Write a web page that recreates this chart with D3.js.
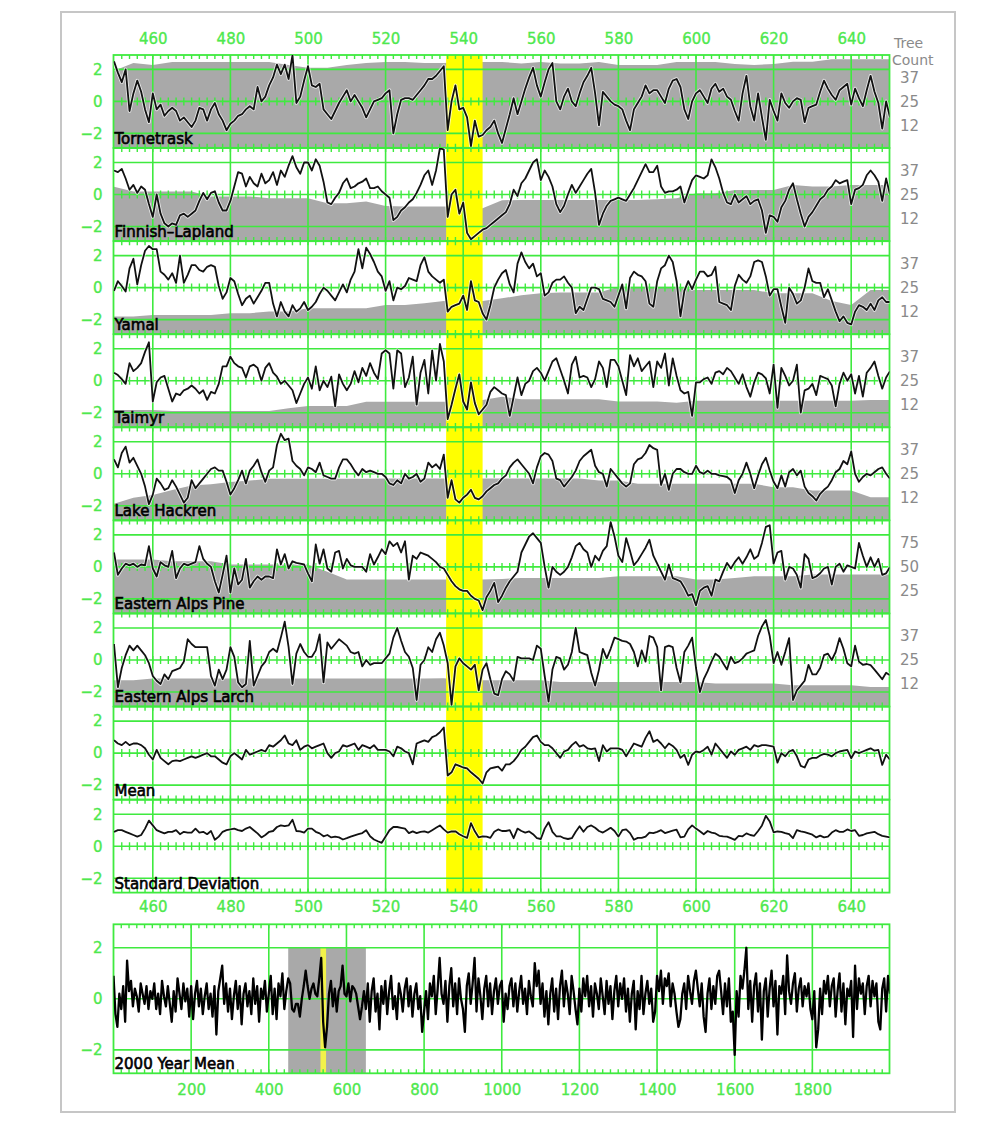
<!DOCTYPE html>
<html>
<head>
<meta charset="utf-8">
<script src="https://cdn.jsdelivr.net/npm/d3@7"></script>
<style>
  body { margin: 0; background: #fff; }
  svg { display: block; }
  text { font-family: "DejaVu Sans", sans-serif; }
</style>
</head>
<body>
<div id="chart"></div>
<script>
// ---- data ------------------------------------------------------------
const years = d3.range(450, 651);          // annual series 450..650
const countYears = d3.range(450, 651, 5);  // tree count samples
const longYears = d3.range(0, 2001, 5);    // 2000 year mean samples

const bandYears = [535.6, 545];
const gridYears = [460, 480, 500, 520, 540, 560, 580, 600, 620, 640];
const longGridYears = [200, 400, 600, 800, 1000, 1200, 1400, 1600, 1800];
const valueTicks = [-2, 0, 2];

const tornetrask = [
  2.5, 1.8, 1.2, 2.0, -0.6, 0.5, 1.3, 0.6, -0.5, -1.3,
  0.5, -0.5, -0.2, -0.9, -0.6, -0.4, -0.6, -1.2, -1.0, -1.3,
  -1.6, -1.2, -0.4, -0.5, -1.2, -0.5, -0.1, -0.8, -1.2, -1.8,
  -1.4, -1.2, -0.9, -0.8, -0.5, -0.3, -0.5, 0.9, 0.0, 0.3,
  1.0, 1.5, 2.3, 1.7, 2.3, 1.4, 2.9, -0.1, 0.3, 1.3,
  2.2, 1.0, 0.9, 1.1, -0.5, -0.8, -1.1, -0.6, -0.1, 0.3,
  0.7, 0.0, 0.4, 0.0, -0.4, -1.0, -0.5, 0.0, 0.1, 0.2,
  0.5, 0.7, -2.0, -0.8, 0.1, 0.2, 0.2, 0.1, 0.4, 0.7,
  1.0, 1.4, 1.4, 1.6, 1.9, 2.2, -1.8, 0.0, 1.0, -0.5,
  -0.4, -1.0, -2.8, -1.2, -2.2, -2.1, -1.8, -1.6, -1.2, -2.0,
  -2.6, -1.7, -0.8, 0.2, -0.8, 0.0, 0.8, 1.5, 2.1, 1.0,
  0.3, 1.2, 2.0, 2.4, 0.0, -0.5, 0.3, 0.8, 0.0, -0.3,
  0.5, 1.2, 1.6, 2.1, 0.5, -1.5, 0.6, 0.3, 0.0, -0.2,
  -0.3, -0.5, -1.2, -1.8, -0.5, -0.1, 0.3, 1.0, 0.5, 0.7,
  0.7, 0.3, -0.1, 0.8, 1.3, 1.4, 0.9, -0.5, -1.1, 0.0,
  0.5, 0.7, 0.3, -0.1, 0.8, 1.1, 0.6, 0.8, 0.3, 0.1,
  -0.6, -1.2, 0.5, 1.6, -0.3, -1.2, 0.5, -1.0, -2.4, 0.1,
  -0.6, -1.2, 0.5, -0.1, -0.4, 0.0, 0.2, 0.1, -1.3, -0.4,
  -0.3, -0.2, 0.6, 1.3, 0.8, 0.4, 0.1, 0.7, 0.9, 1.1,
  -0.2, 0.8, 0.2, -0.3, 0.7, 1.6, 0.6, -0.1, -1.7, 0.0,
  -1.0
];
const tornetraskCount = [
  41, 45, 44, 45.5, 45.5, 45.5, 45.5, 45.5, 45.5, 44,
  42.5, 42.5, 44, 45, 45.5, 45.5, 45, 45, 45.5, 45.5,
  45.5, 44.8, 45.5, 44.8, 44.8, 45.5, 44, 44, 44, 45.5,
  45.5, 45.5, 44.5, 44, 44.5, 45.7, 45.7, 47, 47, 47,
  47
];

const finnish = [
  1.5, 1.4, 1.6, 1.0, 0.3, 0.6, 0.1, 0.5, 0.3, -0.6,
  -1.4, 0.0, -1.2, -1.8, -2.0, -1.8, -1.9, -1.3, -1.2, -1.4,
  -1.2, -1.0, -0.4, 0.1, -0.3, 0.1, 0.2, -0.5, -1.0, -1.0,
  -0.4, 0.5, 1.4, 1.3, 0.5, 1.1, 0.7, 0.5, 1.3, 0.7,
  0.9, 1.4, 0.6, 1.5, 1.1, 1.8, 2.4, 1.7, 1.3, 2.0,
  2.0, 1.5, 2.2, 1.8, 0.8, -0.5, -0.6, -0.2, 0.1, 0.7,
  1.0, 0.4, 0.5, 0.7, 0.8, 1.0, 0.4, 0.4, 0.5, 0.2,
  0.0, -0.2, -1.6, -1.4, -1.0, -0.8, -0.5, -0.3, 0.1, 0.6,
  1.2, 1.5, 0.6, 1.5, 2.9, 2.8, -1.4, 0.0, 0.3, -1.2,
  -0.5, -2.4, -2.8, -2.6, -2.4, -2.2, -2.1, -1.9, -1.7, -1.5,
  -1.3, -1.1, -0.6, 0.3, -0.1, 0.7, 1.0, 1.5, 2.0, 2.2,
  0.9, 1.5, 1.1, 0.5, -0.6, -1.1, -0.7, 0.0, 0.6, 0.1,
  0.5, 0.9, 1.3, 1.6, 0.1, -1.9, -1.2, -0.7, -0.4, -0.3,
  -0.2, -0.3, -0.4, 0.0, 0.4, 0.9, 1.4, 1.9, 1.4, 1.4,
  1.8, 0.5, 0.1, 0.2, 0.2, 0.3, 0.5, -0.5, 0.2, 0.9,
  1.2, 1.1, 1.0, 1.2, 2.2, 1.7, 1.0, 0.1, -0.5, -0.6,
  0.0, -0.5, -0.3, -0.1, -0.6, -0.4, -0.3, -1.0, -2.4, -1.3,
  -1.4, -1.7, -0.8, -0.4, 0.3, 0.7, -0.3, -1.2, -2.0, -1.4,
  -1.1, -0.7, -0.3, -0.1, 0.3, 0.5, 0.9, 0.7, 0.8, 0.9,
  -0.6, 0.3, 0.4, 0.6, 1.2, 1.5, 1.2, 0.8, -0.4, 1.0,
  0.0
];
const finnishCount = [
  29, 26.6, 26.6, 26.6, 26.6, 24, 24, 24, 23.1, 23.1,
  23.1, 20.5, 20.5, 21.3, 19, 18.75, 18.75, 18.75, 18.5, 17.9,
  22, 22.2, 22.2, 22.2, 22.2, 22.2, 22.2, 22.2, 22.5, 23,
  25.7, 25.7, 27.4, 27.4, 27.4, 30, 29.2, 29.2, 30, 30,
  30
];

const yamal = [
  -0.2, 0.4, 0.1, -0.25, 1.2, 1.8, 0.2, 1.4, 2.3, 2.6,
  2.4, 2.4, 1.0, 0.8, 0.5, 0.9, 0.3, 2.0, 0.3, 0.8,
  1.4, 1.4, 1.1, 1.0, 1.3, 1.4, 1.3, 0.1, -0.7, -0.3,
  0.6, 0.4, -0.4, -1.1, -0.7, -0.5, -1.0, -0.6, -0.2, 0.3,
  0.3, -1.0, -1.8, -0.9, -1.5, -1.8, -1.1, -1.5, -1.3, -0.9,
  -1.4, -1.2, -0.9, -0.4, 0.0, -0.2, -0.5, -0.8, -0.3, 0.2,
  -0.3, 0.5, 1.0, 2.4, 1.2, 2.5, 2.1, 1.6, 1.0, 0.7,
  -0.2, 0.4, -0.8, 0.0, -0.1, 0.1, 0.6, 0.5, 0.4, 1.4,
  1.9, 1.0, 0.7, 0.5, 0.3, 0.5, -1.5, -1.2, -1.1, -1.0,
  -0.5, -1.4, 0.4, -0.8, -0.9, -1.6, -2.0, -1.1, 0.0, 0.5,
  0.9, 1.1, 0.2, -0.3, 1.5, 2.2, 1.6, 1.2, 1.5, 0.7,
  0.9, -0.5, -0.3, 0.3, 0.5, 0.5, 0.7, 0.3, 0.0, -1.6,
  -1.2, -1.4, -0.7, 0.0, 0.0, -0.1, -0.7, -0.8, -0.9, -1.2,
  -0.5, 0.2, -1.3, 0.6, 1.0, 0.8, 0.7, 0.4, -1.0, -1.2,
  0.4, 1.2, 1.4, 2.0, 1.6, 0.4, -1.8, -0.2, 0.4, -0.1,
  0.5, 1.0, 1.0, 0.7, 0.8, 1.3, -0.9, -1.0, -1.1, -1.4,
  0.1, 0.8, 0.5, 0.3, 0.7, 1.6, 1.7, 1.6, 0.7, -0.5,
  -0.1, -0.1, -1.2, -2.2, 0.0, -0.4, -1.0, -0.8, 0.0, 1.2,
  0.4, 0.3, 0.3, -0.6, -0.1, -0.8, -1.5, -2.1, -1.8, -2.2,
  -2.3, -1.5, -1.1, -1.2, -1.4, -1.0, -1.4, -0.8, -0.6, -0.9,
  -0.9
];
const yamalCount = [
  9.9, 9.9, 10.75, 10.75, 10.75, 10.75, 11.7, 11.7, 12.5, 12.5,
  14.2, 14.2, 14.2, 14.2, 16, 16, 16.8, 18, 18, 18,
  19.4, 21, 22, 22.5, 22.5, 22.5, 25.5, 25.5, 25.5, 25.5,
  23.8, 23.8, 23.8, 23.8, 22, 22, 22, 18, 16, 23.8,
  23.8
];

const taimyr = [
  0.5, 0.35, 0.1, -0.2, 1.1, 0.6, 0.8, 1.1, 1.8, 2.4,
  -1.3, -0.1, 0.2, 0.3, -0.5, -1.3, -0.8, -0.9, -0.6, -0.5,
  -0.3, -0.5, -0.8, -0.6, -1.2, -0.7, -0.8, -0.2, 0.9, 0.9,
  1.5, 1.1, 0.9, 0.8, 0.2, 0.9, 1.0, 0.8, 0.0, 0.8,
  1.1, 0.5, 0.25, -0.2, 0.0, -0.3, -0.6, -1.4, -0.8, -0.2,
  0.2, -0.5, 0.9, -0.6, 0.0, -0.4, 0.25, -1.6, 0.4, -0.2,
  -0.6, -0.2, 0.6, -0.1, 0.8, 0.3, 1.1, 0.5, 0.1, 1.7,
  1.9, 1.7, -0.5, 1.9, 1.7, -0.4, 0.2, 1.5, -1.5, 0.5,
  1.3, -0.8, 1.9, 0.0, 2.3, 1.2, -2.4, -1.5, -0.5, 0.4,
  -1.3, -1.8, -0.1, -1.4, -2.1, -1.8, -1.5, -0.7, -0.4, -0.6,
  -0.8, -0.9, -2.2, -1.0, 0.2, -0.9, -0.2, 0.0, 0.6, 0.8,
  0.5, 0.0, 0.6, 1.2, 1.4, 0.7, 0.0, -0.8, 1.0, 1.5,
  0.2, 0.3, 0.2, -0.4, 0.1, 1.2, 0.8, -0.4, 1.3, 1.3,
  0.9, 0.0, -0.9, 1.6, 0.9, 1.4, 0.6, 0.9, 1.2, -0.4,
  1.2, 0.8, 1.7, -0.3, 1.4, 0.3, -0.6, -0.8, -0.7, -2.2,
  -0.1, -0.1, 0.1, 0.2, -0.2, 0.5, 0.6, 0.4, 0.8, 0.6,
  0.2, -0.2, 0.4, -0.4, -1.0, -0.1, 0.5, 0.4, 0.15, -0.8,
  1.0, -1.7, 0.8, 0.3, -0.3, 0.0, 1.0, -2.0, -0.6, -0.5,
  -0.2, -0.9, 0.3, 0.2, 0.1, -0.3, -1.6, -0.2, 0.5, 0.0,
  0.4, -0.8, 0.3, -1.0, 0.5, 0.8, 1.2, 0.3, -0.5, 0.2,
  0.6
];
const taimyrCount = [
  9.7, 9.7, 9.7, 9.2, 9.2, 9.2, 9.2, 9.2, 9.2, 10.6,
  11.8, 11.8, 11.8, 14, 14, 14, 14, 14, 14, 15,
  16.7, 15.3, 15.3, 15.3, 15.3, 15.3, 14.2, 14.2, 14.2, 13.5,
  14.6, 14.6, 14.6, 14.6, 14.6, 14.6, 14.6, 14.6, 14.6, 15,
  15
];

const hackren = [
  0.9, 0.4, 1.3, 1.7, 0.7, 1.0, 0.5, 0.0, -0.8, -1.9,
  -1.3, -0.3, -0.6, -1.0, -0.9, -0.4, -0.8, -1.3, -1.8, -1.5,
  -0.4, -0.9, -0.6, -0.3, 0.0, 0.3, 0.4, 0.2, 0.2, -0.5,
  -1.3, -0.9, -0.4, 0.2, -0.6, 0.2, 0.5, 0.9, 0.1, -0.5,
  0.2, 0.4, 1.8, 2.5, 2.1, 2.2, 0.8, 0.5, 0.3, -0.1,
  0.4, 0.3, 0.1, 0.7, -0.1, -0.2, -0.3, -0.3, 0.4, 0.9,
  0.9, 0.6, 0.2, -0.1, 0.3, 0.1, 0.2, 0.1, 0.0, 0.0,
  -0.2, -0.6, -0.7, -0.4, -0.6, 0.0, -0.3, -0.2, 0.0, -0.5,
  -0.3, 0.7, 0.4, 0.6, 0.3, 1.2, -1.5, -0.4, -1.6, -1.8,
  -1.5, -1.3, -1.0, -1.5, -1.6, -1.4, -1.1, -0.9, -0.7, -0.6,
  -0.3, -0.1, 0.4, 0.7, 0.9, 0.6, 0.3, 0.0, -0.6, 0.4,
  1.1, 1.3, 1.2, 0.8, -0.3, -0.4, -0.8, -0.5, -0.2, 0.2,
  0.8, 1.1, 1.3, 1.5, 0.5, 0.1, 0.0, -0.8, 0.3, 0.0,
  -0.3, -0.6, -0.8, -0.6, 0.6, 0.9, 1.0, 1.3, 1.8, 1.6,
  1.5, -0.7, 0.0, -1.0, 0.0, 0.3, 0.3, 0.1, 0.0, 0.0,
  0.5, 0.1, 0.0, 0.2, 0.0, 0.0, -0.1, -0.15, -0.2, -0.4,
  -1.2, -0.4, 0.0, 0.7, 0.0, -0.9, -0.1, 0.6, 1.0, 0.2,
  -0.5, -0.9, -0.1, -0.8, 0.1, 0.3, -0.1, 0.2, -0.8, -1.2,
  -1.4, -1.67, -1.25, -1.0, -0.8, -0.4, 0.1, 0.3, 0.8, 0.6,
  1.4, 0.0, -0.5, -0.2, 0.0, -0.1, 0.1, 0.3, 0.4, 0.0,
  -0.3
];
const hackrenCount = [
  9.4, 12.5, 14, 16.5, 18.9, 19.5, 20.7, 21.5, 22.4, 22.4,
  22.4, 22.4, 22.4, 22.4, 22.6, 22.6, 22.6, 22.6, 22.5, 22.5,
  22.5, 22.5, 22.5, 22.5, 22.5, 21.5, 21.5, 19.8, 19.8, 19.8,
  19.8, 19.8, 19.8, 19.8, 18, 18, 16.3, 16.3, 16.3, 12.8,
  12.8
];

const alpsPine = [
  0.9, -0.5, -0.1, 0.2, 0.1, 0.2, 0.0, 0.15, 0.1, 1.3,
  -0.1, -0.6, 0.3, 0.1, 0.0, 1.0, -0.7, -0.1, 0.2, 0.1,
  0.2, 0.3, 1.3, 0.5, 0.2, 0.0, -0.9, -1.6, -0.5, 0.7,
  -1.6, -0.1, -1.1, -0.8, 0.5, -1.3, -0.9, -0.6, -0.8, -0.6,
  -0.6, -0.7, 1.1, 0.15, 0.8, -0.1, 0.35, 0.25, 0.2, 0.15,
  -0.4, -0.9, 1.4, 0.2, 1.1, -0.1, -0.3, 0.9, 1.0, -0.1,
  0.5, 0.1, 0.0, 0.0, 0.0, -0.3, 0.8, 0.15, 0.6, 1.1,
  0.8, 1.6, 1.3, 1.5, 0.9, 1.6, -0.8, 0.7, 0.5, 0.9,
  0.8, 0.7, 0.5, 0.3, 0.0, -0.1, -0.5, -0.9, -1.2, -1.4,
  -1.5, -1.5, -1.8, -2.0, -2.1, -2.7, -1.9, -1.5, -1.0, -2.2,
  -1.8, -1.3, -0.9, -0.6, -0.3, 0.9, 1.4, 1.9, 2.1, 1.8,
  1.5, 0.0, -1.3, 0.0, -0.3, -0.5, -0.3, 0.0, 0.6, 1.3,
  1.5, 1.1, 0.9, 0.0, 0.7, 0.4, 1.0, 1.3, 2.8, 1.9,
  0.7, 0.3, 1.8, 1.0, 0.1, 0.4, 0.8, 1.2, 1.7, 0.7,
  0.2, -0.3, -0.8, 0.15, -0.7, -0.8, -0.9, -1.3, -1.8, -1.7,
  -2.4, -1.5, -1.3, -1.2, -1.8, -0.8, -0.9, -0.3, 0.25, -0.1,
  0.3, 0.6, 0.2, 0.6, 1.1, 0.5, 0.7, 1.5, 2.5, 2.6,
  0.2, 0.9, 1.0, -0.8, 0.0, -0.1, -0.5, -1.3, 0.8, 0.5,
  -0.7, -0.6, -0.4, -0.1, 0.0, -1.1, 0.0, 0.2, -0.3, 0.1,
  0.0, -0.1, 1.5, 0.7, 0.0, 0.6, 0.0, 0.5, -0.5, -0.4,
  0.0
];
const alpsPineCount = [
  57.7, 57.7, 57.7, 55.9, 55.9, 55.9, 52.4, 52.4, 52.4, 52.4,
  52.4, 45, 37, 36.8, 36.8, 36.8, 36.8, 36.8, 36.8, 36.8,
  37.5, 38.5, 38.5, 38.5, 38.5, 38.5, 40.3, 40.3, 40.3, 40.3,
  36.8, 36.8, 38.5, 40.3, 40.3, 40.3, 42, 42, 42, 42,
  42
];

const alpsLarch = [
  1.0, -1.7, -0.5, 0.3, 0.9, 0.6, 0.9, 0.6, 0.3, -0.2,
  -1.0, -1.3, -1.5, -0.9, -1.2, -0.7, -0.6, -0.5, -0.1, 1.3,
  1.0, 0.8, 0.8, 0.8, 0.8, -1.0, -1.6, -0.6, -1.2, -0.6,
  0.8, 0.2, -1.4, -1.7, -1.5, 1.2, -1.6, -1.0, -0.4, -0.1,
  0.5, 0.7, 0.5, 1.4, 2.4, 0.8, -1.5, 0.4, 1.0, 0.5,
  0.2, 0.2, 0.6, 1.6, -1.4, 1.1, 0.7, 1.0, 1.3, 1.1,
  0.9, 0.5, 0.4, 0.5, -0.4, 0.0, -0.3, -0.2, -0.2, -0.2,
  0.1, 0.4, 1.4, 2.0, 1.2, 0.5, 0.2, -0.5, -2.5, -0.3,
  0.0, 0.8, 0.5, 1.3, 1.7, 0.9, -0.2, -2.8, -0.4, 0.1,
  -0.2, -0.4, -0.6, -0.3, -1.9, -0.6, -0.2, -1.2, -2.1, -2.2,
  -1.2, -0.7, -0.9, -1.3, 0.2, 0.1, 0.1, 0.1, 0.0, 0.9,
  0.7, -1.0, -2.6, -0.6, 0.2, 0.1, -0.6, -0.3, 0.5, 2.0,
  0.5, 0.4, 0.3, -0.8, -1.6, -0.6, 0.7, 0.1, 0.7, 1.4,
  1.3, 1.2, 1.15, 1.0, 0.5, -0.4, 0.6, -0.1, 1.5, 1.4,
  0.8, -1.9, 0.8, 0.9, 0.8, -0.5, -1.4, 0.5, 0.9, 1.4,
  -0.5, -2.0, -1.2, -0.7, -0.1, 0.4, 0.2, -0.2, -0.6, 0.2,
  -0.2, -0.1, 0.1, 0.4, 0.5, 0.6, 1.5, 2.1, 2.5, 1.5,
  -0.2, 0.5, -0.3, 0.5, 1.37, -2.5, -1.9, -1.6, -1.3, -0.3,
  -0.9, -0.9, -0.5, 0.3, 0.4, 0.0, 0.5, 1.37, 0.7, -0.2,
  -0.4, 0.9, -0.1, -0.3, -0.25, -0.32, -0.6, -0.9, -1.2, -0.8,
  -0.95
];
const alpsLarchCount = [
  14.5, 14.5, 15.3, 15.3, 15.3, 15.3, 15.3, 15.3, 15.3, 15.3,
  15.3, 15.3, 15.3, 15.3, 15.3, 15.3, 15.3, 15.5, 14.5, 14.5,
  14.5, 14.5, 14.5, 13.6, 13.6, 13.6, 13.6, 13.6, 13.6, 13.6,
  13.6, 12.75, 12.75, 12.75, 12.75, 11.8, 11.8, 11.8, 11.8, 11,
  11
];

const meanSeries = [
  0.8, 0.6, 0.5, 0.7, 0.5, 0.6, 0.6, 0.5, 0.3, -0.1,
  -0.4, 0.2, -0.3, -0.5, -0.7, -0.5, -0.45, -0.5, -0.4, -0.3,
  -0.2, -0.3, -0.2, -0.1, 0.0, -0.2, -0.2, -0.4, -0.6, -0.7,
  -0.2, 0.0, -0.2, -0.4, 0.2, -0.1, 0.0, 0.1, 0.2, 0.1,
  0.5, 0.4, 0.6, 0.8, 1.1, 0.6, 0.5, 0.8, 0.2, 0.4,
  0.5, 0.3, 0.4, 0.5, 0.6, 0.0, -0.3, 0.0, 0.1, 0.5,
  0.4, 0.5, 0.6, 0.2, 0.5, 0.4, 0.3, 0.5, 0.2, 0.2,
  0.2, 0.1, -0.2, 0.4, 0.3, 0.1, 0.0, -0.7, 0.6, 0.7,
  0.8, 0.7, 1.0, 1.1, 1.3, 1.6, -1.4, -1.2, -0.7, -0.8,
  -0.9, -0.95, -1.2, -1.4, -1.6, -1.9, -1.2, -0.95, -0.9, -0.85,
  -1.1, -0.7, -0.7, -0.5, -0.2, 0.2, 0.4, 0.7, 1.0, 1.1,
  0.7, 0.5, 0.5, 0.3, 0.0, -0.3, 0.1, 0.2, 0.5, 0.7,
  0.4, 0.5, 0.3, 0.25, 0.3, -0.5, 0.5, 0.1, 0.3, 0.3,
  0.3, 0.2, -0.2, 0.2, 0.6, 0.5, 0.4, 0.95, 1.37, 0.7,
  0.84, 0.6, 0.3, 0.6, 0.45, 0.2, -0.3, -0.1, -0.74, -0.1,
  0.1, 0.05, 0.2, 0.4, -0.1, 0.6, 0.3, 0.0, -0.3, 0.1,
  -0.1, 0.2, 0.3, 0.4, 0.2, 0.5, 0.4, 0.5, 0.5, 0.45,
  0.4, -0.6, 0.0, -0.2, 0.1, 0.2, -0.2, -0.8, -0.9, -0.4,
  -0.3, -0.3, -0.15, -0.05, -0.1, -0.2, 0.0, 0.1, 0.15, 0.2,
  -0.32, 0.1, 0.0, 0.1, 0.2, 0.3, 0.15, 0.2, -0.74, -0.1,
  -0.42
];

const stdSeries = [
  0.9, 1.0, 1.0, 0.9, 0.8, 0.7, 0.6, 0.7, 1.1, 1.6,
  1.3, 1.0, 0.9, 0.8, 0.9, 0.9, 1.0, 0.75, 0.9, 0.85,
  0.85, 1.1, 0.85, 0.9, 0.75, 0.95, 0.4, 0.6, 0.9, 1.0,
  1.05, 1.1, 1.0, 0.95, 1.1, 1.2, 1.0, 0.8, 0.55, 0.7,
  0.9, 0.95, 1.2, 1.3, 1.25, 1.3, 1.65, 0.95, 0.93, 0.85,
  1.1, 1.1, 0.9, 0.8, 0.62, 0.7, 0.55, 0.6, 0.55, 0.42,
  0.5, 0.6, 0.68, 0.75, 0.82, 1.0, 0.62, 0.42, 0.31, 0.21,
  0.6, 1.0, 1.2, 1.2, 1.15, 1.1, 0.82, 0.93, 0.82, 0.9,
  0.93, 0.85, 1.0, 1.15, 1.3, 1.05, 0.85, 0.92, 0.93, 0.75,
  0.62, 0.52, 1.44, 0.93, 0.55, 0.62, 0.6, 0.52, 0.9, 1.05,
  0.95, 0.95, 1.0, 0.5, 1.1, 0.95, 0.85, 0.92, 0.75, 0.5,
  0.45, 1.1, 1.5, 0.9, 0.62, 0.62, 0.5, 0.45, 0.5, 0.9,
  1.25, 0.9, 1.2, 1.3, 1.15, 0.95, 0.85, 1.0, 1.15, 0.95,
  0.6, 1.0, 1.05, 0.82, 0.4, 0.52, 0.52, 0.6, 0.85, 0.82,
  0.9, 1.0, 0.82, 0.9, 0.97, 1.03, 0.55, 0.6, 1.05, 1.3,
  1.1, 0.93, 0.75, 0.95, 0.85, 0.8, 0.65, 0.62, 0.6, 0.5,
  0.4, 0.65, 0.62, 0.8, 0.7, 0.65, 0.95, 1.3, 1.9, 1.55,
  0.87, 0.92, 0.9, 0.82, 0.75, 0.5, 1.0, 0.93, 0.88, 0.8,
  0.72, 0.55, 0.66, 0.55, 0.6, 0.85, 1.0, 0.9, 0.9, 1.05,
  0.95, 1.0, 0.65, 0.7, 0.8, 0.85, 0.9, 0.75, 0.65, 0.6,
  0.55
];

const longMean = [
  0.9, -0.6, -1.1, 0.2, -0.4, 0.5, -0.9, 1.5, 0.3, 0.7,
  -0.3, 0.4, 0.1, -0.5, 0.6, 0.2, -0.2, 0.5, -0.4, 0.3,
  0.0, 0.6, -0.4, 0.2, -0.6, 0.7, 0.1, -0.3, 0.5, -0.2,
  -0.9, 0.3, -0.5, 0.8, 0.2, -0.4, 0.6, -0.1, 0.4, -0.7,
  0.5, -0.8, 0.2, 0.7, -0.3, 0.4, -0.6, 0.1, 0.6, -0.4,
  0.2, -0.7, 0.5, -1.4, 0.3, 0.8, 1.3, -0.2, 0.6, -0.5,
  0.4, -0.8, 0.1, 0.7, -0.4, 0.5, -1.0, 0.2, 0.6, -0.3,
  0.3, -0.6, 0.8, -0.2, 0.5, -0.9, 0.4, 0.0, 0.7, -0.5,
  0.2, 0.9, -0.6, 0.4, -0.8, 0.6, 0.1, 1.0, -0.4, 0.3,
  0.8, 0.6, -0.4, -0.5, -0.2, -0.2, -0.7, 0.0, 0.5, 1.1,
  0.5, 0.0, 0.4, 0.6, 0.2, 0.1, 0.8, 1.6, -0.9, -1.9,
  -1.1, 0.2, 0.7, -0.3, 0.4, -0.5, 0.3, 0.5, 1.3, 0.2,
  0.1, 0.6, -0.1, 0.5, 0.4, 0.2, -0.3, -0.8, -0.3, 0.3,
  -0.4, 0.6, -0.9, 0.3, 0.8, -0.5, 0.2, -1.2, 0.5, -0.2,
  0.7, -0.6, 0.3, 0.9, -0.4, 0.1, -0.8, 0.6, 0.2, -0.5,
  0.4, 0.8, -0.3, 0.5, -0.7, 0.2, 0.6, -0.4, 0.1, -1.3,
  -0.5, 0.3, -0.8, 0.6, 0.1, 0.9, -0.6, 0.4, 1.6, 0.2,
  -0.2, 0.7, -0.9, 0.5, 1.2, -0.3, 0.6, -0.6, 0.8, 0.0,
  -0.4, -1.3, 0.5, 1.0, -0.2, 0.6, 1.6, -0.5, 0.8, 0.1,
  -0.8, 0.4, 0.9, -0.3, 0.6, -0.6, 0.3, 0.8, -0.2, 0.5,
  0.7, -0.9, 0.2, -0.4, 0.5, 0.8, -0.3, 0.6, -0.5, 0.3,
  0.9, -0.2, 0.4, -0.6, 0.7, 0.1, -0.3, 1.4, 0.5, 1.1,
  -0.2, 0.6, -0.7, 0.3, -1.0, 0.2, 0.8, -0.5, 0.4, -0.8,
  0.5, 1.1, -0.3, 0.7, 0.2, -0.6, 0.9, 0.3, -0.4, -1.0,
  0.4, -0.5, 0.8, 0.1, 0.9, -0.3, 0.5, -0.7, 0.6, 0.2,
  -0.4, 0.8, 0.1, -0.6, 0.7, -0.2, 0.5, -0.8, 0.3, 0.9,
  -0.3, 0.6, 0.0, 0.8, -0.5, 0.4, -0.9, 0.2, 0.7, -1.2,
  0.3, -0.4, 0.9, -0.6, 0.2, 0.7, -0.2, 0.4, -0.9, -0.5,
  0.9, 0.3, 1.1, -0.2, 0.8, 0.5, 1.0, -0.3, 0.6, 0.2,
  -0.5, -1.1, -0.8, 0.2, 0.6, -0.4, 0.9, 0.3, -0.2, 0.7,
  1.1, 0.4, -0.3, 0.6, -0.7, -1.3, 0.2, 0.8, -0.4, 0.5,
  -0.2, 0.9, 1.1, 0.3, -0.6, 0.6, -0.3, 0.8, -0.9, -0.5,
  -2.2, 0.3, -0.7, 0.9, 0.4, 1.1, 2.0, -0.4, 0.7, -0.9,
  0.5, 1.0, -0.5, 0.6, -1.6, 0.3, 0.8, -0.7, 0.4, 1.1,
  -0.3, 0.7, -1.4, 0.5, 0.2, 0.9, -0.6, 1.7, 0.3, -0.2,
  0.6, 1.0, -0.5, 0.4, 0.8, -0.3, 0.5, 0.1, 0.6, -0.4,
  -0.8, 0.3, -1.9, -1.2, 0.4, -0.6, 0.7, 0.2, 0.9, -0.3,
  0.5, 0.8, -0.7, 0.3, 1.0, -0.5, 0.6, -1.0, 0.4, 0.1,
  0.7, -1.5, 1.3, -0.4, 0.8, 0.2, 0.6, -0.6, 0.5, 0.9,
  -0.3, 0.7, 0.1, 0.6, -0.9, -1.2, 0.4, 0.8, -0.5, 0.9,
  0.2
];

const panels = [
  { name: "Tornetrask", values: tornetrask, counts: tornetraskCount, countMax: 50, countTicks: [12.5, 25, 37.5] },
  { name: "Finnish\u2013Lapland", values: finnish, counts: finnishCount, countMax: 50, countTicks: [12.5, 25, 37.5] },
  { name: "Yamal", values: yamal, counts: yamalCount, countMax: 50, countTicks: [12.5, 25, 37.5] },
  { name: "Taimyr", values: taimyr, counts: taimyrCount, countMax: 50, countTicks: [12.5, 25, 37.5] },
  { name: "Lake Hackren", values: hackren, counts: hackrenCount, countMax: 50, countTicks: [12.5, 25, 37.5] },
  { name: "Eastern Alps Pine", values: alpsPine, counts: alpsPineCount, countMax: 100, countTicks: [25, 50, 75] },
  { name: "Eastern Alps Larch", values: alpsLarch, counts: alpsLarchCount, countMax: 50, countTicks: [12.5, 25, 37.5] },
  { name: "Mean", values: meanSeries },
  { name: "Standard Deviation", values: stdSeries }
];

// ---- layout ----------------------------------------------------------
const green = "#3fea3f";
const labelGreen = "#4ee84e";
const gray = "#a9a9a9";
const yellow = "#ffff00";
const intFmt = d3.format("d");

const left = 113.5, right = 889.5;
const firstTop = 55, step = 93.1, panelH = 92.8;

const svg = d3.select("#chart").append("svg")
  .attr("width", 1000)
  .attr("height", 1121);

svg.append("rect")
  .attr("x", 61).attr("y", 12)
  .attr("width", 894).attr("height", 1100)
  .attr("fill", "#fff")
  .attr("stroke", "#c6c6c6")
  .attr("stroke-width", 2);

const x = d3.scaleLinear().domain([450, 650]).range([left + 0.5, right + 0.5]);

function styleAxis(g, color, size) {
  g.select(".domain").remove();
  g.selectAll(".tick line").remove();
  g.attr("font-family", null).attr("font-size", null);
  g.selectAll("text")
    .attr("fill", color)
    .attr("stroke", color)
    .attr("stroke-width", 0.35)
    .style("font-size", size + "px");
}

function gridLines(g, xs, yv, top, bottom, x0, x1) {
  g.selectAll(null).data(xs).enter().append("line")
    .attr("x1", d => d).attr("x2", d => d)
    .attr("y1", top).attr("y2", bottom)
    .attr("stroke", green).attr("stroke-width", 1.6);
  g.selectAll(null).data(yv).enter().append("line")
    .attr("x1", x0).attr("x2", x1)
    .attr("y1", d => d).attr("y2", d => d)
    .attr("stroke", green).attr("stroke-width", 1.6);
  g.append("rect")
    .attr("x", x0).attr("y", top)
    .attr("width", x1 - x0).attr("height", bottom - top)
    .attr("fill", "none")
    .attr("stroke", green).attr("stroke-width", 1.8);
}

function seriesLabel(g, text, yPos) {
  g.append("text")
    .attr("x", left + 1).attr("y", yPos)
    .attr("fill", "#000")
    .attr("stroke", "#000")
    .attr("stroke-width", 0.6)
    .style("font-size", "15px")
    .text(text);
}

panels.forEach((p, i) => {
  const top = firstTop + i * step;
  const bottom = top + panelH;
  const y = d3.scaleLinear().domain([-2.9, 2.9]).range([bottom, top]);
  const g = svg.append("g");

  const clipId = "clip" + i;
  svg.append("clipPath").attr("id", clipId)
    .append("rect").attr("x", left).attr("y", top)
    .attr("width", right - left).attr("height", panelH);

  // tree count area
  if (p.counts) {
    const c = d3.scaleLinear().domain([0, p.countMax]).range([y(-3), y(3)]);
    const area = d3.area()
      .x((d, j) => x(countYears[j]))
      .y0(bottom)
      .y1(d => c(d));
    g.append("path").datum(p.counts)
      .attr("d", area)
      .attr("fill", gray)
      .attr("clip-path", `url(#${clipId})`);

    const ra = g.append("g")
      .attr("transform", `translate(${right},0)`)
      .call(d3.axisRight(c).tickValues(p.countTicks)
        .tickFormat(d => Math.floor(d)).tickSize(0).tickPadding(10.5));
    styleAxis(ra, "#8a8a8a", 15);
    ra.selectAll("text").attr("stroke", null);
  }

  // highlighted years
  g.append("rect")
    .attr("x", x(bandYears[0])).attr("y", top)
    .attr("width", x(bandYears[1]) - x(bandYears[0]))
    .attr("height", panelH)
    .attr("fill", yellow);

  gridLines(g, gridYears.map(x), valueTicks.map(y), top, bottom, left, right);

  // minor ticks every 2 years
  const minor = d3.range(452, 650, 2);
  const y0 = y(0);
  g.selectAll(null).data(minor).enter().append("path")
    .attr("d", d => {
      const xx = x(d);
      return `M${xx},${top}v4M${xx},${bottom}v-4M${xx},${y0 - 4}v8`;
    })
    .attr("stroke", green).attr("stroke-width", 1.4);

  const la = g.append("g")
    .attr("transform", `translate(${left},0)`)
    .call(d3.axisLeft(y).tickValues(valueTicks).tickFormat(intFmt).tickSize(0).tickPadding(11));
  styleAxis(la, labelGreen, 15);

  seriesLabel(g, p.name, bottom - 4);

  const line = d3.line().x((d, j) => x(years[j])).y(d => y(d));
  g.append("path").datum(p.values)
    .attr("d", line)
    .attr("fill", "none")
    .attr("stroke", "#fff").attr("stroke-opacity", 0.7)
    .attr("stroke-width", 3.6)
    .attr("stroke-linejoin", "round")
    .attr("clip-path", `url(#${clipId})`);
  g.append("path").datum(p.values)
    .attr("d", line)
    .attr("fill", "none")
    .attr("stroke", "#111")
    .attr("stroke-width", 1.8)
    .attr("stroke-linejoin", "round")
    .attr("clip-path", `url(#${clipId})`);
});

// year labels above and below the stack
const stackBottom = firstTop + (panels.length - 1) * step + panelH;
const ta = svg.append("g").attr("transform", `translate(0,${firstTop})`)
  .call(d3.axisTop(x).tickValues(gridYears).tickFormat(intFmt).tickSize(0).tickPadding(11.5));
styleAxis(ta, labelGreen, 15);
const ba = svg.append("g").attr("transform", `translate(0,${stackBottom})`)
  .call(d3.axisBottom(x).tickValues(gridYears).tickFormat(intFmt).tickSize(0).tickPadding(8.5));
styleAxis(ba, labelGreen, 15);

svg.append("text").attr("x", 894).attr("y", 48)
  .attr("fill", "#8a8a8a").style("font-size", "14px").text("Tree");
svg.append("text").attr("x", 892).attr("y", 65)
  .attr("fill", "#8a8a8a").style("font-size", "14px").text("Count");

// ---- 2000 year mean --------------------------------------------------
const lTop = 924.3, lBottom = 1073.3;
const lx = d3.scaleLinear().domain([0, 2000]).range([left, right + 0.5]);
const ly = d3.scaleLinear().domain([-2.92, 2.92]).range([lBottom, lTop]);
const lg = svg.append("g");

svg.append("clipPath").attr("id", "clipLong")
  .append("rect").attr("x", left).attr("y", lTop)
  .attr("width", right - left).attr("height", lBottom - lTop);

lg.append("rect")
  .attr("x", lx(450)).attr("y", ly(2))
  .attr("width", lx(650) - lx(450))
  .attr("height", lBottom - ly(2))
  .attr("fill", gray);

const bandMid = (lx(bandYears[0]) + lx(bandYears[1])) / 2;
lg.append("rect")
  .attr("x", bandMid - 2.8).attr("y", ly(2))
  .attr("width", 5.6)
  .attr("height", lBottom - ly(2))
  .attr("fill", "#f2f24a");

gridLines(lg, longGridYears.map(lx), valueTicks.map(ly), lTop, lBottom, left, right);

lg.selectAll(null).data(d3.range(20, 2000, 20)).enter().append("path")
  .attr("d", d => `M${lx(d)},${lTop}v4M${lx(d)},${lBottom}v-4`)
  .attr("stroke", green).attr("stroke-width", 1.4);

const lla = lg.append("g")
  .attr("transform", `translate(${left},0)`)
  .call(d3.axisLeft(ly).tickValues(valueTicks).tickFormat(intFmt).tickSize(0).tickPadding(11));
styleAxis(lla, labelGreen, 15);

const lba = lg.append("g").attr("transform", `translate(0,${lBottom})`)
  .call(d3.axisBottom(lx).tickValues(longGridYears).tickFormat(intFmt).tickSize(0).tickPadding(11));
styleAxis(lba, labelGreen, 15);

seriesLabel(lg, "2000 Year Mean", lBottom - 4);

lg.append("path").datum(longMean)
  .attr("d", d3.line().x((d, j) => lx(longYears[j])).y(d => ly(d)))
  .attr("fill", "none")
  .attr("stroke", "#000")
  .attr("stroke-width", 2.3)
  .attr("stroke-linejoin", "round")
  .attr("clip-path", "url(#clipLong)");
</script>
</body>
</html>
